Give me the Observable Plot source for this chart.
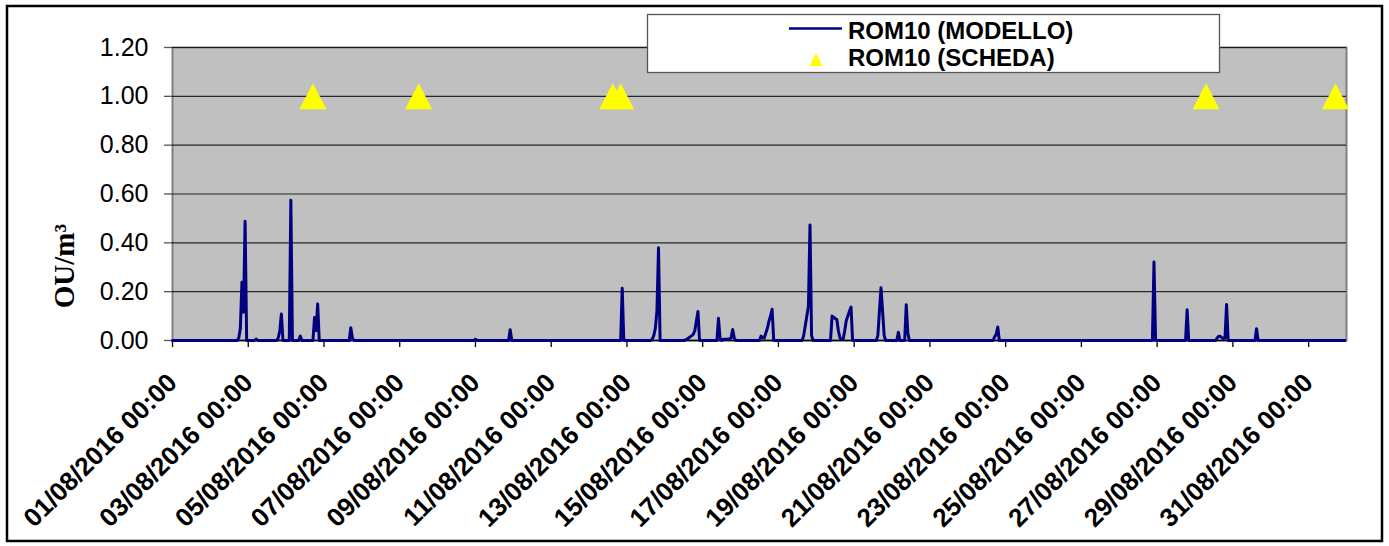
<!DOCTYPE html>
<html><head><meta charset="utf-8">
<script src="https://cdn.jsdelivr.net/npm/d3@7"></script>
<script src="https://cdn.jsdelivr.net/npm/@observablehq/plot@0.6"></script>
<style>html,body{margin:0;padding:0;background:#fff;} svg{display:block}</style>
</head><body><div id="chart"></div>
<script>
// ---- data ----
const startDate = "2016-08-01T00:00Z";
const endDate = "2016-09-01T00:00Z";
const seriesNames = ["ROM10 (MODELLO)", "ROM10 (SCHEDA)"];
const yLabel = "OU/m³";
const yTicks = [0, 0.2, 0.4, 0.6, 0.8, 1.0, 1.2];
const xTickDates = ["2016-08-01","2016-08-03","2016-08-05","2016-08-07","2016-08-09","2016-08-11","2016-08-13","2016-08-15",
  "2016-08-17","2016-08-19","2016-08-21","2016-08-23","2016-08-25","2016-08-27","2016-08-29","2016-08-31"];
// hours since 01/08/2016 00:00 and modelled values (OU/m3)
const modelHours = [0,
  41,42,43,44,45,46,47,
  52,53,54,
  66,67,68,69,70,
  74,75,76,
  80,81,82,
  89,90,91,92,93,
  112,113,114,115,
  191,192,193,
  213,214,215,
  284,285,286,
  303,304,305,306,307,308,309,
  324,326,328,330,331,332,333,334,
  345,346,347,348,349,352,354,355,356,357,
  372,373,374,375,377,378,379,380,381,
  399,400,401,402,403,404,405,406,
  417,418,419,420,421,422,423,424,425,426,427,428,429,430,431,
  446,447,448,449,450,451,452,
  459,460,461,
  464,465,466,467,
  520,521,522,523,524,
  621,622,623,
  642,643,644,
  661,662,663,664,665,666,667,668,669,
  686,687,688,
  743];
const modelValues = [0,
  0,0.01,0.05,0.239,0.116,0.488,0,
  0,0.006,0,
  0,0.01,0.04,0.109,0,
  0,0.574,0,
  0,0.018,0,
  0,0.094,0.04,0.15,0,
  0,0.052,0.01,0,
  0,0.005,0,
  0,0.044,0,
  0,0.214,0,
  0,0.005,0.02,0.05,0.12,0.38,0,
  0,0.005,0.015,0.025,0.04,0.08,0.119,0,
  0,0.091,0.01,0,0.005,0.005,0.01,0.045,0.01,0,
  0,0.018,0.012,0.01,0.05,0.08,0.1,0.128,0,
  0,0.02,0.06,0.1,0.14,0.473,0.02,0,
  0,0.1,0.095,0.09,0.086,0.04,0.01,0.005,0.005,0.04,0.082,0.1,0.12,0.137,0,
  0,0.02,0.12,0.216,0.12,0.02,0,
  0,0.034,0,
  0,0.146,0.03,0,
  0,0.015,0.025,0.055,0,
  0,0.321,0,
  0,0.126,0,
  0,0.01,0.017,0.017,0.012,0.008,0.01,0.147,0,
  0,0.048,0,
  0];
const schedaHours = [89, 156, 279, 284, 655, 737];
const schedaValues = [1.0, 1.0, 1.0, 1.0, 1.0, 1.0];

// ---- build ----
const t0 = new Date(startDate);
const t1 = new Date(endDate);
const toDate = h => new Date(+t0 + h * 3600e3);
const model = modelHours.map((h, i) => ({date: toDate(h), value: modelValues[i]}));
const scheda = schedaHours.map((h, i) => ({date: toDate(h), value: schedaValues[i]}));
const xTicks = xTickDates.map(s => new Date(s + "T00:00Z"));
const fmt = d3.utcFormat("%d/%m/%Y %H:%M");

const triangle = {draw(ctx, size) {
  const r = Math.sqrt(size / Math.PI), w = r * 27 / 26;
  ctx.moveTo(0, -r); ctx.lineTo(w, r); ctx.lineTo(-w, r); ctx.closePath();
}};

const plot = Plot.plot({
  width: 1389, height: 546,
  marginLeft: 172, marginRight: 43, marginTop: 47, marginBottom: 206,
  style: {fontFamily: "'Liberation Sans', Arial, sans-serif", background: "#fff", color: "#000", overflow: "visible"},
  x: {type: "utc", domain: [t0, t1]},
  y: {domain: [0, 1.2]},
  marks: [
    Plot.frame({fill: "#c0c0c0", stroke: "#808080", strokeWidth: 2}),
    Plot.gridY(yTicks, {stroke: "#000", strokeOpacity: 0.8, strokeWidth: 1.2}),
    Plot.axisY(yTicks, {tickSize: 8, tickPadding: 16, tickFormat: d => d.toFixed(2), fontSize: 25, stroke: "#555", strokeWidth: 1.3, label: null}),
    Plot.axisX(xTicks, {tickSize: 7, tickPadding: 31, tickRotate: -45, textAnchor: "end", lineAnchor: "middle",
      tickFormat: fmt, fontSize: 26, fontWeight: "bold", stroke: "#000", strokeWidth: 1.3, label: null}),
    Plot.ruleY([0], {stroke: "#000", strokeWidth: 1.3}),
    Plot.line(model, {x: "date", y: "value", stroke: "#000080", strokeWidth: 3}),
    Plot.dot(scheda, {x: "date", y: "value", symbol: triangle, r: 13, fill: "#ffff00", stroke: "none"}),
    Plot.text([yLabel], {text: d => d, frameAnchor: "left", dx: -108, dy: 72, rotate: -90,
      fontFamily: "'Liberation Serif', 'Times New Roman', serif", fontWeight: "bold", fontSize: 29,
      textAnchor: "middle", lineAnchor: "middle"})
  ]
});

const svg = d3.select(plot);
// outer border
svg.append("rect").attr("x", 7).attr("y", 6).attr("width", 1375).attr("height", 535)
  .attr("fill", "none").attr("stroke", "#000").attr("stroke-width", 2.5);
// legend
const lg = svg.append("g");
lg.append("rect").attr("x", 647.5).attr("y", 14.5).attr("width", 572).attr("height", 58)
  .attr("fill", "#fff").attr("stroke", "#555").attr("stroke-width", 1.3);
lg.append("line").attr("x1", 789).attr("x2", 842).attr("y1", 28.5).attr("y2", 28.5)
  .attr("stroke", "#000080").attr("stroke-width", 2.5);
lg.append("path").attr("transform", "translate(816,59.5)")
  .attr("d", d3.symbol(triangle, Math.PI * 6.4 * 6.4)()).attr("fill", "#ffff00");
lg.selectAll("text.lt").data(seriesNames).join("text").attr("class", "lt")
  .attr("x", 848).attr("y", (d, i) => i === 0 ? 39.3 : 65.7)
  .attr("text-anchor", "start")
  .attr("font-family", "'Liberation Sans', Arial, sans-serif").attr("font-weight", "bold").attr("font-size", 24)
  .attr("fill", "#000").text(d => d);

document.getElementById("chart").appendChild(plot);
</script>
</body></html>
